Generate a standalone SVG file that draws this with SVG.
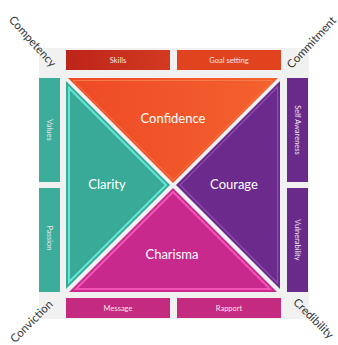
<svg xmlns="http://www.w3.org/2000/svg" width="338" height="345" viewBox="0 0 338 345">
<style>
.big{font-family:Lato,"Open Sans","Liberation Sans",sans-serif;font-size:13px;fill:#ffffff;text-anchor:middle;dominant-baseline:central}
.bar{font-family:Lato,"Open Sans","Liberation Sans",sans-serif;font-size:7.5px;fill:#f4e6ea;text-anchor:middle;dominant-baseline:central}
.corner{font-family:Lato,"Open Sans","Liberation Sans",sans-serif;font-size:11.5px;fill:#333333;text-anchor:middle;dominant-baseline:central}
</style>
<defs>
<linearGradient id="gOr" x1="0" y1="0" x2="1" y2="0"><stop offset="0" stop-color="#ee4a26"/><stop offset="1" stop-color="#f4612e"/></linearGradient>
<linearGradient id="gSk" x1="0" y1="0" x2="1" y2="0"><stop offset="0" stop-color="#bd2419"/><stop offset="1" stop-color="#d23a22"/></linearGradient>
</defs>
<rect width="338" height="345" fill="#ffffff"/>
<rect x="39" y="48" width="270" height="271" fill="#f1f1f1"/>
<g id="connectors"/>
<g id="skills"><rect x="66" y="50" width="104" height="20" fill="url(#gSk)"/><text class="bar" x="118" y="60">Skills</text></g>
<g id="goal-setting"><rect x="177" y="50" width="104" height="20" fill="#e2431f"/><text class="bar" x="229" y="60">Goal setting</text></g>
<g id="values"><rect x="39" y="78" width="21" height="104" fill="#3dad9b"/><text class="bar" transform="translate(49.5,130) rotate(90)">Values</text></g>
<g id="passion"><rect x="39" y="188" width="21" height="104" fill="#3dad9b"/><text class="bar" transform="translate(49.5,238) rotate(90)">Passion</text></g>
<g id="self-awareness"><rect x="287" y="78" width="21" height="104" fill="#6a2a8a"/><text class="bar" transform="translate(297.5,130) rotate(90)">Self Awareness</text></g>
<g id="vulnerability"><rect x="287" y="188" width="21" height="104" fill="#6a2a8a"/><text class="bar" transform="translate(297.5,240) rotate(90)">Vulnerability</text></g>
<g id="message"><rect x="66" y="298" width="104" height="20" fill="#c42a80"/><text class="bar" x="118" y="308">Message</text></g>
<g id="rapport"><rect x="177" y="298" width="104" height="20" fill="#c42a80"/><text class="bar" x="229" y="308">Rapport</text></g>
<g id="confidence"><polygon points="68,78 278,78 173,183" fill="url(#gOr)"/><polygon points="73,80.5 273,80.5 173,180" fill="none" stroke="#f77a4a" stroke-width="1"/><text class="big" x="173" y="118">Confidence</text></g>
<g id="clarity"><polygon points="66,81 66,289 170,185" fill="#39aa98"/><polygon points="69,88 69,282 166,185" fill="none" stroke="#62e6d6" stroke-width="2"/><text class="big" x="107" y="184">Clarity</text></g>
<g id="courage"><polygon points="280,81 280,289 176,185" fill="#6b2a8c"/><polygon points="277.5,87 277.5,283 180,185" fill="none" stroke="#8e4cae" stroke-width="1.2"/><text class="big" x="234" y="184">Courage</text></g>
<g id="charisma"><polygon points="69,292 277,292 173,188" fill="#c8298d"/><polygon points="76,289 270,289 173,192" fill="none" stroke="#f255b6" stroke-width="2"/><text class="big" x="172" y="254">Charisma</text></g>
<g id="competency"><text class="corner" transform="translate(33,41) rotate(48)">Competency</text></g>
<g id="commitment"><text class="corner" transform="translate(311,42) rotate(-47)">Commitment</text></g>
<g id="conviction"><text class="corner" transform="translate(31,321) rotate(-45)">Conviction</text></g>
<g id="credibility"><text class="corner" transform="translate(314,318) rotate(45)">Credibility</text></g>
</svg>
